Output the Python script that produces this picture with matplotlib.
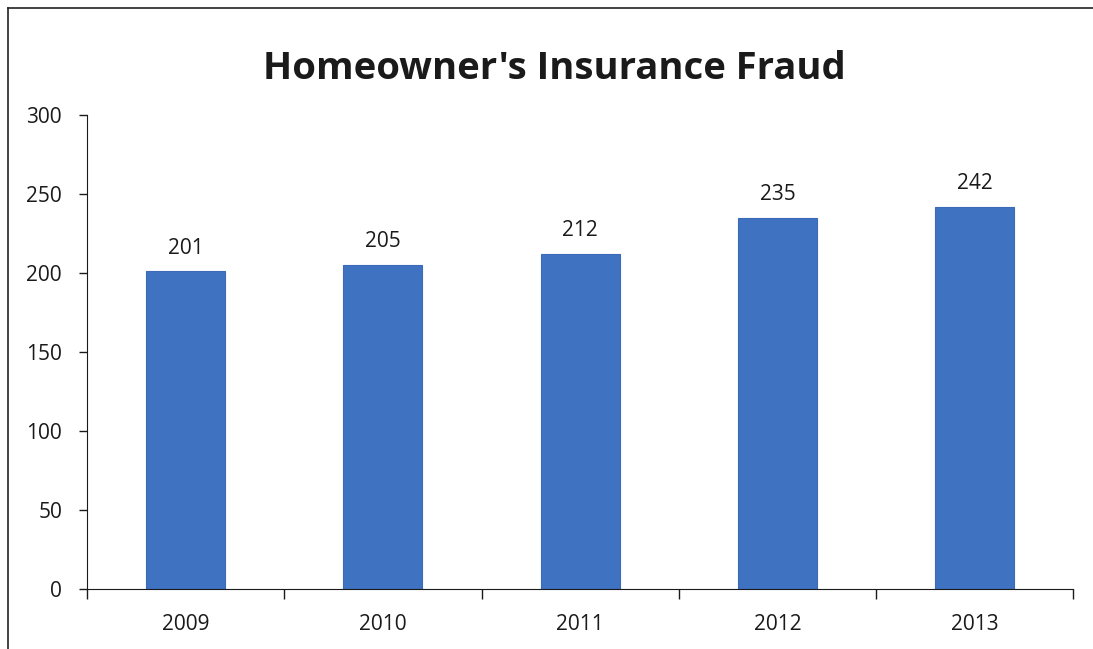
import matplotlib.pyplot as plt
from matplotlib.lines import Line2D

years = ['2009', '2010', '2011', '2012', '2013']
cases = [201, 205, 212, 235, 242]
y_ticks = [0, 50, 100, 150, 200, 250, 300]

plt.rcParams['font.family'] = ['Open Sans', 'DejaVu Sans']

fig = plt.figure(figsize=(10.93, 6.49), dpi=100)
ax = fig.add_axes([0.0796, 0.0924, 0.9024, 0.7304])

pos = list(range(len(years)))
bars = ax.bar(pos, cases, width=0.4, color='#4072c2', edgecolor='#3a6ab8', linewidth=0.8)
for x, v in zip(pos, cases):
    ax.text(x, v + 8, str(v), ha='center', va='bottom', fontsize=15, color='#1a1a1a')

ax.set_xlim(-0.5, len(years) - 0.5)
ax.set_ylim(0, 300)
ax.set_yticks(y_ticks)
ax.tick_params(axis='y', labelsize=15, length=6, width=1, colors='#1a1a1a', pad=12)

# category labels centred, ticks at the category boundaries
ax.set_xticks(pos)
ax.set_xticklabels(years, fontsize=15, color='#1a1a1a')
ax.tick_params(axis='x', which='major', length=0, pad=18)
ax.set_xticks([p - 0.5 for p in pos] + [len(years) - 0.5], minor=True)
ax.tick_params(axis='x', which='minor', length=7, width=1, color='#1a1a1a')

for side in ['top', 'right']:
    ax.spines[side].set_visible(False)
ax.spines['left'].set_color('#1a1a1a')
ax.spines['bottom'].set_color('#1a1a1a')

fig.text(0.507, 0.893, "Homeowner's Insurance Fraud", ha='center', va='center',
         fontsize=27.5, fontweight='bold', color='#1a1a1a')

# frame lines of the scanned chart area
fig.add_artist(Line2D([8 / 1093, 1], [1 - 8 / 649, 1 - 8 / 649], transform=fig.transFigure,
                      color='#222222', linewidth=1.2))
fig.add_artist(Line2D([8 / 1093, 8 / 1093], [0, 1 - 8 / 649], transform=fig.transFigure,
                      color='#222222', linewidth=1.2))

fig.savefig('out.png', dpi=100, facecolor='white')
